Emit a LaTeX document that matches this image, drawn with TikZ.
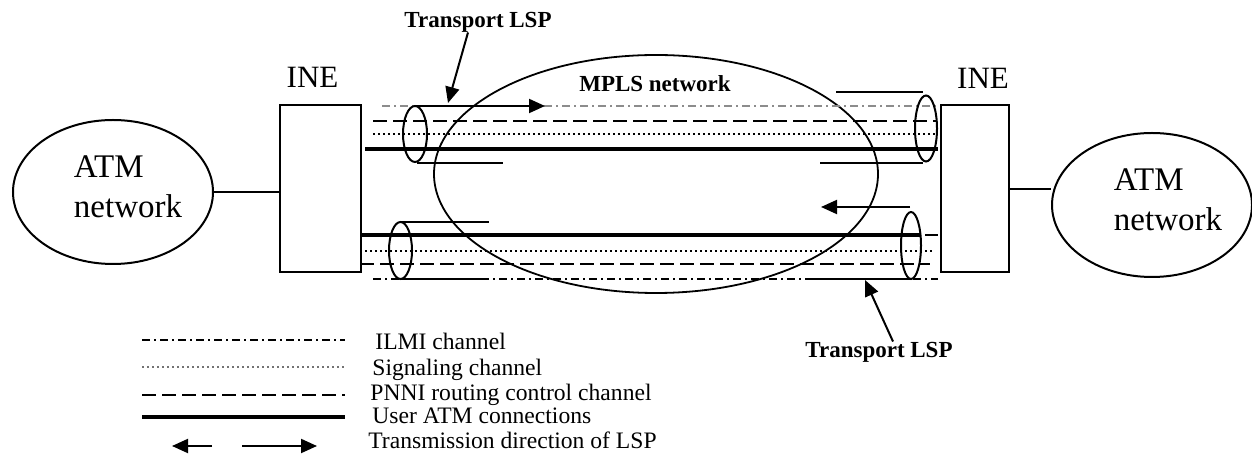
\documentclass[tikz,border=0pt]{standalone}
\usepackage{fontspec}
\setmainfont{Liberation Serif}
\usetikzlibrary{arrows.meta, positioning, shapes.geometric}

\begin{document}
\begin{tikzpicture}[
			x=0.5pt, y=-0.5pt,
			atmcloud/.style={ellipse, draw, line width=1pt, minimum width=100pt, minimum height=72pt, inner sep=0pt},
			bigtext/.style={font=\fontsize{16.5}{20}\selectfont, align=left, inner sep=0pt},
			inelabel/.style={font=\fontsize{15.5}{18}\selectfont, inner sep=0pt},
			inebox/.style={rectangle, draw, line width=1pt, minimum height=83.5pt, inner sep=0pt},
			mplscloud/.style={ellipse, draw, line width=0.9pt, minimum width=222pt, minimum height=119pt, inner sep=0pt},
			boldlabel/.style={font=\fontsize{11.5}{13}\selectfont\bfseries, inner sep=0pt},
			legendtext/.style={font=\fontsize{11.8}{14}\selectfont, anchor=base west, inner sep=0pt},
			ilmi/.style={line width=0.8pt, dash pattern=on 4pt off 2pt on 1pt off 2pt},
			signaling/.style={line width=0.8pt, dash pattern=on 1pt off 1.5pt},
			pnni/.style={line width=1pt, dash pattern=on 7pt off 3pt},
			userconn/.style={line width=2.4pt},
			tubeline/.style={line width=1pt},
			lsparrow/.style={line width=1pt, -{Triangle[length=8pt, width=7pt]}},
			>={Triangle[length=8pt, width=7pt]}
			]
			\useasboundingbox (0,0) rectangle (1252,469);
			
			% access networks and edge nodes
			\node[atmcloud] (atmL) at (113,192) {};
			\node[bigtext] (atmLtext) at (128,187) {ATM\\network};
			\node[atmcloud] (atmR) at (1152,205) {};
			\node[bigtext] (atmRtext) at (1168,200) {ATM\\network};
			
			\node[inebox, minimum width=40.5pt] (ineL) at (320.5,188.5) {};
			\node[inebox, minimum width=34pt] (ineR) at (975,189) {};
			\node[inelabel, above=8pt of ineL, xshift=-4pt] (ineLlabel) {INE};
			\node[inelabel, above=8pt of ineR, xshift=4pt] (ineRlabel) {INE};
			
			\draw[tubeline] (atmL.east) -- (atmL.east -| ineL.west);
			\draw[tubeline] (ineR.east) -- (ineR.east -| atmR.west);
			
			\node[mplscloud] (mpls) at (656,174) {};
			\node[boldlabel] (mplsLabel) at (655,84) {MPLS network};
			
			% upper transport LSP
			\draw[ilmi, black!45] (382,106) -- (937,106);
			\draw[pnni] (373,121) -- (937,121);
			\draw[signaling] (373,134) -- (937,134);
			\draw[userconn] (365,149) -- (938,149);
			\draw[tubeline] (415,134) ellipse [x radius=6pt, y radius=14pt];
			\draw[tubeline, ->] (415,106) -- (545,106);
			\draw[tubeline] (417,163) -- (503,163);
			\draw[tubeline] (926,128.5) ellipse [x radius=5.5pt, y radius=16.5pt];
			\draw[tubeline] (836,92) -- (923,92);
			\draw[tubeline] (820,163) -- (923,163);
			
			% lower transport LSP
			\draw[userconn] (361,235) -- (920,235);
			\draw[pnni] (925,235) -- (938,235);
			\draw[signaling] (360,251) -- (935,251);
			\draw[pnni] (360,264) -- (930,264);
			\draw[ilmi] (373,279) -- (938,279);
			\draw[tubeline] (400.5,250.5) ellipse [x radius=5.75pt, y radius=14.25pt];
			\draw[tubeline] (400,222) -- (489,222);
			\draw[tubeline] (400,279) -- (489,279);
			\draw[tubeline] (911,245.5) ellipse [x radius=5pt, y radius=16.75pt];
			\draw[tubeline, ->] (910,207) -- (821,207);
			\draw[tubeline] (805,279) -- (911,279);
			
			% pointers
			\node[boldlabel] (lspTop) at (478,22) {Transport LSP};
			\coordinate (lspTopTip) at (448,103);
			\draw[lsparrow] ([xshift=-5pt]lspTop.south) -- (lspTopTip);
			\node[boldlabel] (lspBot) at (879,352) {Transport LSP};
			\coordinate (lspBotTip) at (865,280);
			\draw[lsparrow] ([xshift=7pt]lspBot.north) -- (lspBotTip);
			
			% legend
			\draw[ilmi] (142,340) -- (345,340);
			\draw[signaling, black!55] (142,367) -- (345,367);
			\draw[pnni] (142,395) -- (345,395);
			\draw[userconn] (142,417) -- (345,417);
			\draw[tubeline, ->] (212,446) -- (172,446);
			\draw[tubeline, ->] (242,446) -- (317,446);
			\node[legendtext] (legIlmi) at (375,349.5) {ILMI channel};
			\node[legendtext] (legSig) at (372,375.5) {Signaling channel};
			\node[legendtext] (legPnni) at (370,400.5) {PNNI routing control channel};
			\node[legendtext] (legUser) at (372,423.5) {User ATM connections};
			\node[legendtext] (legDir) at (368,448.5) {Transmission direction of LSP};
		\end{tikzpicture}
\end{document}
